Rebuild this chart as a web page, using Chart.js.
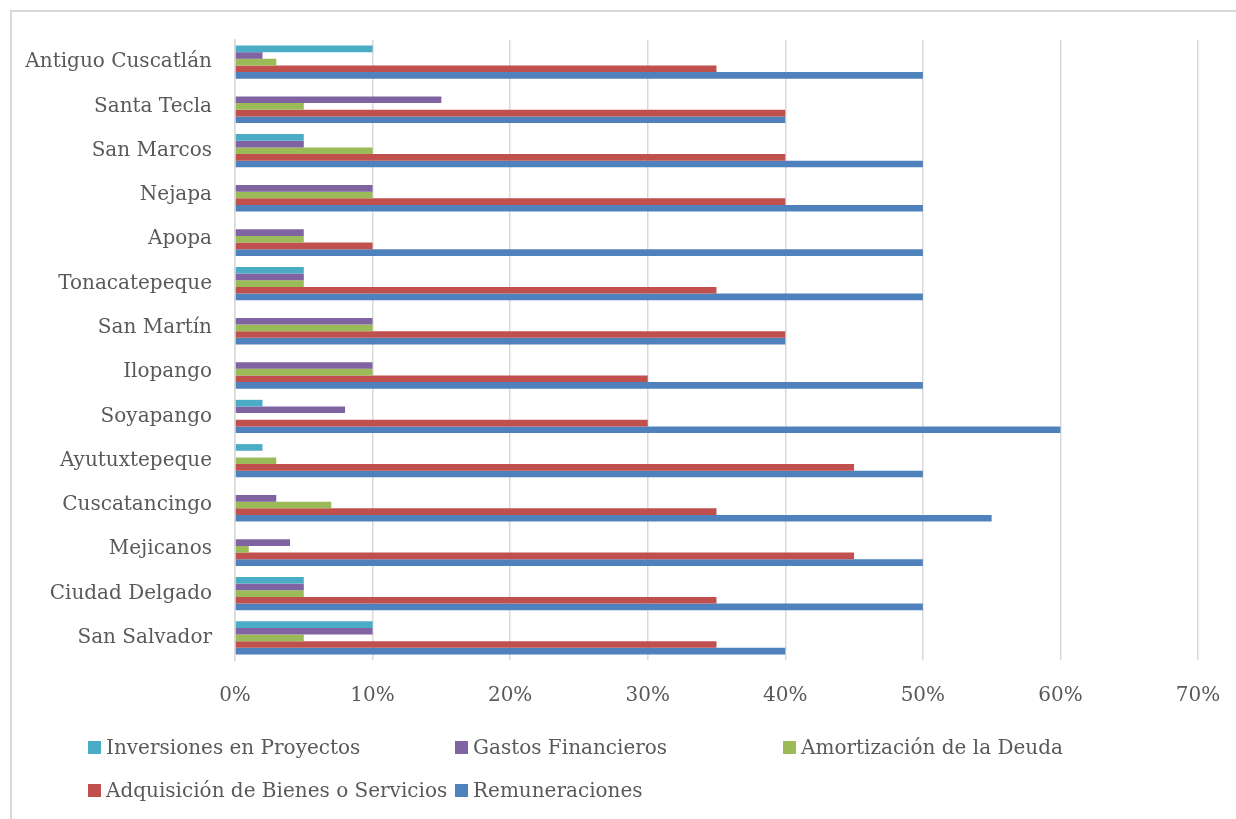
<!DOCTYPE html>
<html>
<head>
<meta charset="utf-8">
<script src="https://cdn.jsdelivr.net/npm/chart.js@4"></script>
<style>
  body { margin: 0; background: #fff; }
  #wrap { position: relative; width: 1236px; height: 819px; overflow: hidden; }
  #frame { position: absolute; left: 10px; top: 10px; width: 1240px; height: 820px; border: 2px solid #d9d9d9; box-sizing: border-box; }
  canvas { position: absolute; left: 0; top: 0; }
  #legend { position: absolute; left: 88px; top: 733px; display: grid; grid-template-columns: 367px 328px auto; row-gap: 15px; font-family: "DejaVu Serif", serif; font-size: 20px; color: #595959; }
  .item { display: flex; align-items: center; white-space: nowrap; height: 28px; }
  .box { width: 13px; height: 13px; margin-right: 5px; flex: none; }
</style>
</head>
<body>
<div id="wrap">
  <div id="frame"></div>
  <canvas id="chart" width="1236" height="819"></canvas>
  <div id="legend"></div>
</div>
<script>
const municipios = ["Antiguo Cuscatlán", "Santa Tecla", "San Marcos", "Nejapa", "Apopa", "Tonacatepeque",
  "San Martín", "Ilopango", "Soyapango", "Ayutuxtepeque", "Cuscatancingo", "Mejicanos", "Ciudad Delgado", "San Salvador"];

const inversiones   = [10, 0, 5, 0, 0, 5, 0, 0, 2, 2, 0, 0, 5, 10];
const gastos        = [2, 15, 5, 10, 5, 5, 10, 10, 8, 0, 3, 4, 5, 10];
const amortizacion  = [3, 5, 10, 10, 5, 5, 10, 10, 0, 3, 7, 1, 5, 5];
const adquisicion   = [35, 40, 40, 40, 10, 35, 40, 30, 30, 45, 35, 45, 35, 35];
const remuneraciones = [50, 40, 50, 50, 50, 50, 40, 50, 60, 50, 55, 50, 50, 40];

const series = [
  { label: "Inversiones en Proyectos", data: inversiones, color: "#4BACC6" },
  { label: "Gastos Financieros", data: gastos, color: "#8064A2" },
  { label: "Amortización de la Deuda", data: amortizacion, color: "#9BBB59" },
  { label: "Adquisición de Bienes o Servicios", data: adquisicion, color: "#C0504D" },
  { label: "Remuneraciones", data: remuneraciones, color: "#4F81BD" }
];

const fontFam = "'DejaVu Serif', serif";
const textColor = "#595959";

const chart = new Chart(document.getElementById("chart"), {
  type: "bar",
  data: {
    labels: municipios,
    datasets: series.map(s => ({
      label: s.label,
      data: s.data,
      backgroundColor: s.color,
      borderWidth: 0,
      categoryPercentage: 0.75,
      barPercentage: 1.0
    }))
  },
  options: {
    indexAxis: "y",
    responsive: false,
    animation: false,
    layout: { padding: { left: 0, right: 38, top: 40, bottom: 109 } },
    plugins: {
      legend: { display: false },
      tooltip: { enabled: false }
    },
    scales: {
      x: {
        min: 0,
        max: 70,
        ticks: {
          stepSize: 10,
          padding: 24,
          color: textColor,
          font: { family: fontFam, size: 20 },
          callback: v => v + "%"
        },
        grid: { color: "#d9d9d9", lineWidth: 1.5, drawTicks: false },
        border: { display: false },
        afterFit: axis => {
          axis.height = 50;
          axis.paddingLeft = 0;
          axis.paddingRight = 0;
        }
      },
      y: {
        ticks: {
          padding: 23,
          color: textColor,
          font: { family: fontFam, size: 20 }
        },
        grid: { display: false, drawTicks: false },
        border: { display: true, color: "#d9d9d9", width: 1.5 },
        afterFit: axis => { axis.width = 235; }
      }
    }
  }
});

const legend = document.getElementById("legend");
series.forEach(s => {
  const item = document.createElement("div");
  item.className = "item";
  item.innerHTML = `<span class="box" style="background:${s.color}"></span><span>${s.label}</span>`;
  legend.appendChild(item);
});
</script>
</body>
</html>
